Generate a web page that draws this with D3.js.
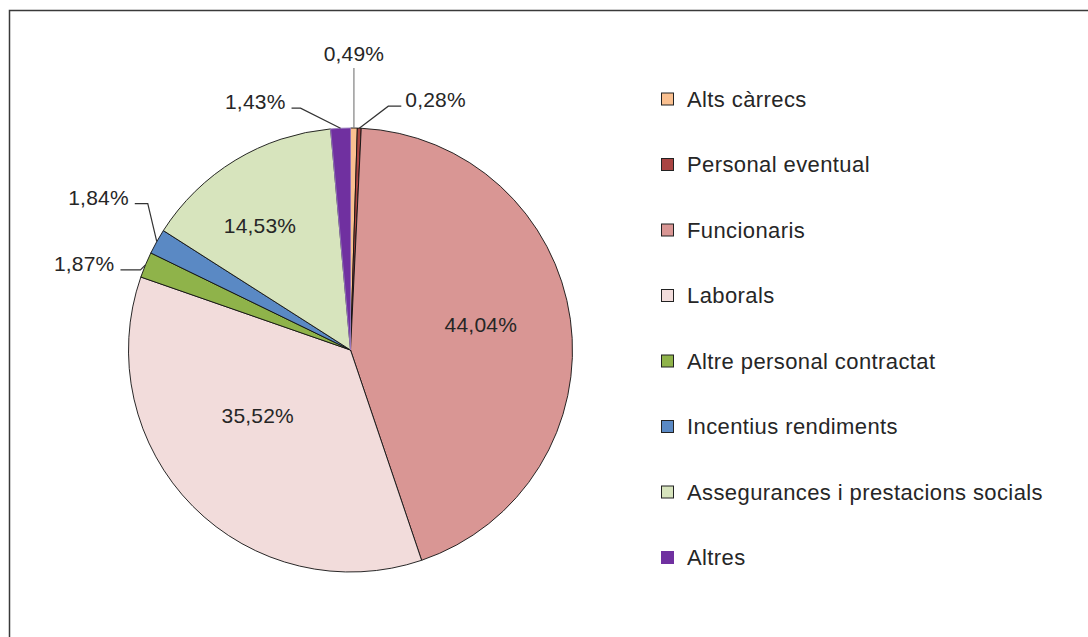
<!DOCTYPE html>
<html>
<head>
<meta charset="utf-8">
<script src="https://cdn.jsdelivr.net/npm/d3@7"></script>
<style>
  body { margin: 0; background: #fff; }
  svg text { font-family: "Liberation Sans", Arial, sans-serif; fill: #262626; }
</style>
</head>
<body>
<svg id="chart"></svg>
<script>
// data (percent shares)
const categories = ["Alts càrrecs", "Personal eventual", "Funcionaris", "Laborals",
    "Altre personal contractat", "Incentius rendiments", "Assegurances i prestacions socials", "Altres"];
const values = [0.49, 0.28, 44.04, 35.52, 1.87, 1.84, 14.53, 1.43];
const labels = ["0,49%", "0,28%", "44,04%", "35,52%", "1,87%", "1,84%", "14,53%", "1,43%"];
const colors = ["#fac090", "#a94442", "#d99694", "#f2dcdb", "#8fb34a", "#5a89c4", "#d7e4bd", "#7030a0"];

const width = 1088, height = 637;
const cx = 350.5, cy = 350, R = 222;

const svg = d3.select("#chart")
    .attr("width", width)
    .attr("height", height);

// outer frame (only top and left visible in the crop)
svg.append("rect")
    .attr("x", 9.5).attr("y", 10.5)
    .attr("width", width).attr("height", height)
    .attr("fill", "none")
    .attr("stroke", "#3a3a3a")
    .attr("stroke-width", 1.5);

const pie = d3.pie().sort(null).value(d => d);
const arcs = pie(values);
const arc = d3.arc().innerRadius(0).outerRadius(R);

const g = svg.append("g").attr("transform", `translate(${cx},${cy})`);

g.selectAll("path")
    .data(arcs)
    .enter().append("path")
    .attr("d", arc)
    .attr("fill", (d, i) => colors[i])
    .attr("stroke", (d, i) => i === 7 ? "#9a7cc0" : "#111")
    .attr("stroke-width", 0.9)
    .attr("stroke-linejoin", "round");

// label layout: inside labels get a nudge from the centroid, outside ones a leader line
// el = elbow offset from the arc edge, h = horizontal run of the leader
const layout = {
    0: { out: true, el: [0, -60], h: 0 },
    1: { out: true, el: [29, -22], h: 13 },
    2: { out: false, k: 0.62, n: [-6, -6] },
    3: { out: false, k: 0.62, n: [5, -31] },
    4: { out: true, el: [-5, 5], h: -20 },
    5: { out: true, el: [-9, -38], h: -13 },
    6: { out: false, k: 0.62, n: [-19, -7] },
    7: { out: true, el: [-40, -20], h: -9 }
};

const edgeArc = d3.arc().innerRadius(R).outerRadius(R);

arcs.forEach((d, i) => {
    const L = layout[i];
    if (!L.out) {
        const c = d3.arc().innerRadius(R * L.k).outerRadius(R * L.k).centroid(d);
        g.append("text")
            .attr("x", c[0] + L.n[0])
            .attr("y", c[1] + L.n[1])
            .attr("text-anchor", "middle")
            .attr("dominant-baseline", "central")
            .attr("font-size", 21)
            .attr("letter-spacing", 0.2)
            .text(labels[i]);
        return;
    }
    const p0 = edgeArc.centroid(d);
    const p1 = [p0[0] + L.el[0], p0[1] + L.el[1]];
    const p2 = [p1[0] + L.h, p1[1]];
    g.append("path")
        .attr("d", d3.line()([p0, p1, p2]))
        .attr("fill", "none")
        .attr("stroke", i === 0 ? "#808080" : "#333")
        .attr("stroke-width", 1.2);
    const t = g.append("text").attr("font-size", 21).attr("letter-spacing", 0.2).text(labels[i]);
    if (L.h === 0) {
        t.attr("x", p2[0]).attr("y", p2[1] - 7).attr("text-anchor", "middle");
    } else if (L.h > 0) {
        t.attr("x", p2[0] + 4).attr("y", p2[1] + 1).attr("text-anchor", "start");
    } else {
        t.attr("x", p2[0] - 6).attr("y", p2[1] + 1).attr("text-anchor", "end");
    }
});

// legend
const ly = d3.scalePoint().domain(categories).range([99, 557.5]);
const legend = svg.append("g")
    .selectAll("g")
    .data(categories)
    .enter().append("g")
    .attr("transform", d => `translate(661,${ly(d)})`);

legend.append("rect")
    .attr("x", 0.5).attr("y", -6)
    .attr("width", 12).attr("height", 12)
    .attr("fill", (d, i) => colors[i])
    .attr("stroke", (d, i) => i === 7 ? colors[i] : "#222")
    .attr("stroke-width", 1);

legend.append("text")
    .attr("x", 26)
    .attr("y", 7.5)
    .attr("font-size", 22)
    .attr("letter-spacing", 0.4)
    .text(d => d);
</script>
</body>
</html>
